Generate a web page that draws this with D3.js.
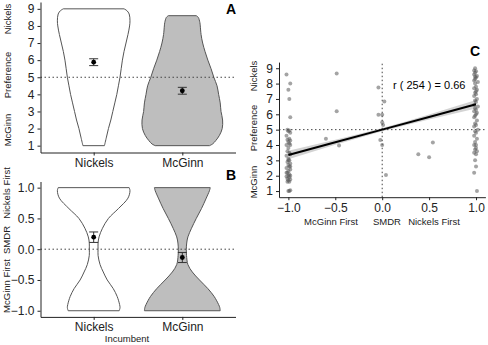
<!DOCTYPE html>
<meta charset="utf-8">
<style>
body { margin: 0; background: #fff; }
svg { font-family: "Liberation Sans", Arial, sans-serif; }
.axis text { font-size: 12px; fill: #222; }
.axis path, .axis line { stroke: #222; stroke-width: 1px; }
.ttl { font-size: 9.5px; fill: #222; }
.panel { font-size: 14px; font-weight: bold; }
.violin { stroke: #555; stroke-width: 1px; }
.ref { stroke: #444; stroke-width: 1px; stroke-dasharray: 1.5,2.5; fill: none; }
</style>
<body>
<script src="https://d3js.org/d3.v7.min.js"></script>
<script>

// incumbent groups
var groups = ["Nickels", "McGinn"];

// preference violin outlines (value, relative half width)
var prefVals = {
  Nickels: [1, 1.5, 2, 2.5, 3, 3.5, 4, 4.5, 5, 5.5, 6, 6.5, 7, 7.5, 8, 8.3, 8.7, 8.9, 9],
  McGinn:  [1, 1.1, 1.3, 1.6, 2, 2.5, 3, 3.5, 4, 4.5, 5, 5.5, 6, 6.5, 7, 7.5, 8, 8.2, 8.5, 8.6]
};
var prefDens = {
  Nickels: [0.27, 0.32, 0.37, 0.43, 0.48, 0.53, 0.58, 0.62, 0.66, 0.69, 0.72, 0.76, 0.81, 0.86, 0.9, 0.91, 0.89, 0.83, 0.76],
  McGinn:  [0.68, 0.76, 0.84, 0.93, 1.0, 1.01, 0.97, 0.95, 0.91, 0.87, 0.79, 0.72, 0.64, 0.57, 0.51, 0.47, 0.45, 0.44, 0.4, 0.35]
};
var prefMean = { Nickels: 5.88, McGinn: 4.21 };
var prefErr  = { Nickels: 0.2,  McGinn: 0.2 };

// SMDR violin outlines
var smdrVals = {
  Nickels: [-1, -0.95, -0.9, -0.77, -0.64, -0.5, -0.37, -0.25, -0.1, 0, 0.1, 0.2, 0.34, 0.5, 0.66, 0.83, 0.95, 1],
  McGinn:  [-1, -0.95, -0.9, -0.77, -0.64, -0.5, -0.37, -0.25, -0.1, 0, 0.1, 0.2, 0.34, 0.5, 0.66, 0.83, 0.95, 1]
};
var smdrDens = {
  Nickels: [0.64, 0.66, 0.65, 0.59, 0.49, 0.34, 0.24, 0.16, 0.11, 0.11, 0.11, 0.135, 0.22, 0.37, 0.62, 0.86, 0.91, 0.89],
  McGinn:  [0.95, 0.94, 0.91, 0.8, 0.64, 0.43, 0.25, 0.14, 0.105, 0.1, 0.11, 0.14, 0.23, 0.35, 0.48, 0.6, 0.68, 0.7]
};
var smdrMean = { Nickels: 0.195, McGinn: -0.135 };
var smdrErr  = { Nickels: 0.085, McGinn: 0.082 };

// scatter: SMDR vs preference
var ptX = [
  -1.02, -0.98, -1.0, -0.99, -0.98, -1.01, -0.99, -1.0, -0.98, -1.02, -0.99, -1.01, -0.98, -1.0, -0.99, -1.02,
  -0.98, -1.0, -1.01, -0.99, -0.98, -1.02, -1.0, -0.99, -1.01, -0.98, -1.0, -0.99, -1.02, -0.98, -1.0, -1.01,
  -0.99, -0.98, -1.0, -1.02, -0.99, -1.01, -0.98, -1.0, -0.99, -1.01, -0.98, -1.0, -0.99, -1.02, -0.98, -1.0,
  -0.6, -0.485, -0.485, -0.46,
  -0.04, 0.023, -0.04, 0.0, 0.0, 0.01, -0.02, 0.0, 0.04,
  0.385, 0.5, 0.54,
  0.99, 0.98, 1.0, 0.99, 0.98, 1.01, 1.0, 0.99, 0.98, 1.02, 0.99, 1.0, 0.98, 1.01, 0.99, 1.0,
  0.98, 1.01, 0.99, 1.0, 0.98, 1.02, 0.99, 1.0, 0.98, 1.01, 1.0, 0.99, 0.98, 1.01, 0.99, 1.0,
  0.98, 1.02, 0.99, 1.0, 0.98, 1.01, 0.99, 1.0, 0.98, 1.0, 0.99, 1.01, 0.98, 1.0, 0.99, 1.0,
  0.98, 1.01, 0.99, 1.0
];
var ptY = [
  8.6, 8.0, 7.6, 7.0, 5.8, 5.0, 4.95, 4.9, 4.8, 4.6, 4.4, 4.35, 4.3, 4.2, 4.1, 4.0,
  4.0, 3.8, 3.6, 3.5, 3.4, 3.3, 3.1, 3.0, 2.9, 2.8, 2.7, 2.6, 2.5, 2.4, 2.3, 2.2,
  2.1, 2.0, 2.0, 1.95, 1.9, 1.8, 1.75, 1.7, 1.6, 1.6, 1.05, 1.0, 1.0, 2.2, 2.6, 3.0,
  4.4, 8.65, 6.2, 3.97,
  7.75, 6.83, 5.97, 5.97, 5.48, 5.3, 4.33, 4.0, 2.04,
  3.4, 3.2, 4.17,
  9.0, 8.85, 8.8, 8.7, 8.6, 8.5, 8.4, 8.3, 8.2, 8.1, 8.0, 7.8, 7.7, 7.6, 7.4, 7.3,
  7.2, 7.0, 6.9, 6.8, 6.6, 6.5, 6.4, 6.3, 6.2, 6.1, 6.0, 5.9, 5.8, 5.6, 5.4, 5.3,
  5.2, 5.0, 4.9, 4.8, 4.6, 4.4, 4.2, 4.0, 4.0, 3.8, 3.7, 3.6, 3.5, 3.4, 3.0, 2.6,
  2.2, 1.0, 8.45, 7.5
];

// linear fit with confidence band
var fitX = [-1, -0.5, 0, 0.5, 1];
var fitY = [3.35, 4.175, 5.0, 5.825, 6.65];
var fitLo = [3.07, 4.01, 4.9, 5.66, 6.37];
var fitHi = [3.63, 4.34, 5.1, 5.99, 6.93];

var prefTicks = [1, 2, 3, 4, 5, 6, 7, 8, 9];
var smdrTicks = [-1, -0.5, 0, 0.5, 1];

var svg = d3.select("body").append("svg")
    .attr("width", 488)
    .attr("height", 345);

var fills = { Nickels: "#ffffff", McGinn: "#bebebe" };

// shared x scale for the two violin panels
var x = d3.scalePoint().domain(groups).range([40.5, 235.5]).padding(0.6);
var halfW = d3.scaleLinear().domain([0, 1]).range([0, x.step() * 0.45]);

function violinPanel(yScale, vals, dens, mean, err, ticks, fmt, refVal, yAxisY) {
  var g = svg.append("g");

  groups.forEach(function(k) {
    var pts = vals[k].map(function(v, i) { return [v, dens[k][i]]; });
    var area = d3.area()
        .y(function(d) { return yScale(d[0]); })
        .x0(function(d) { return x(k) - halfW(d[1]); })
        .x1(function(d) { return x(k) + halfW(d[1]); })
        .curve(d3.curveCatmullRom);
    g.append("path")
        .datum(pts)
        .attr("class", "violin")
        .attr("fill", fills[k])
        .attr("d", area);
  });

  // reference line
  g.append("line")
      .attr("class", "ref")
      .attr("x1", x.range()[0]).attr("x2", x.range()[1])
      .attr("y1", yScale(refVal)).attr("y2", yScale(refVal));

  // mean +/- se
  groups.forEach(function(k) {
    var cx = x(k);
    var lo = yScale(mean[k] - err[k]), hi = yScale(mean[k] + err[k]);
    g.append("path")
        .attr("d", "M" + (cx - 4.5) + "," + hi + "H" + (cx + 4.5) +
                   "M" + cx + "," + hi + "V" + lo +
                   "M" + (cx - 4.5) + "," + lo + "H" + (cx + 4.5))
        .attr("stroke", "#333").attr("stroke-width", 1).attr("fill", "none");
    g.append("circle")
        .attr("cx", cx).attr("cy", yScale(mean[k]))
        .attr("r", 2.4).attr("fill", "#000");
  });

  g.append("g")
      .attr("class", "axis")
      .attr("transform", "translate(" + x.range()[0] + ",0)")
      .call(d3.axisLeft(yScale).tickValues(ticks).tickFormat(fmt).tickSize(3).tickSizeOuter(0).tickPadding(3));

  g.append("g")
      .attr("class", "axis")
      .attr("transform", "translate(0," + yAxisY + ")")
      .call(d3.axisBottom(x).tickSize(3).tickSizeOuter(0).tickPadding(3));
}

// A: preference
var yA = d3.scaleLinear().domain([0.6, 9.4]).range([152.5, 2]);
violinPanel(yA, prefVals, prefDens, prefMean, prefErr, prefTicks, d3.format("d"), 5, 152.5);

// B: SMDR
var yB = d3.scaleLinear().domain([-1.1, 1.1]).range([316.9, 181.5]);
violinPanel(yB, smdrVals, smdrDens, smdrMean, smdrErr, smdrTicks, d3.format(".1f"), 0, 316.9);

// y titles, split into three parts
function sideTitle(xp, parts) {
  parts.forEach(function(p) {
    svg.append("text")
        .attr("class", "ttl")
        .attr("text-anchor", "middle")
        .attr("transform", "translate(" + xp + "," + p[1] + ") rotate(-90)")
        .text(p[0]);
  });
}
sideTitle(11, [["Nickels", 19], ["Preference", 75], ["McGinn", 130]]);
sideTitle(10, [["Nickels First", 193], ["SMDR", 240], ["McGinn First", 286]]);

svg.append("text").attr("class", "ttl").attr("text-anchor", "middle")
    .attr("x", 127).attr("y", 342).text("Incumbent");

svg.append("text").attr("class", "panel").attr("x", 226).attr("y", 14).text("A");
svg.append("text").attr("class", "panel").attr("x", 226).attr("y", 180).text("B");
svg.append("text").attr("class", "panel").attr("x", 470).attr("y", 56).text("C");

// C: scatter with fit
var xC = d3.scaleLinear().domain([-1.1, 1.1]).range([279, 485.4]);
var yC = d3.scaleLinear().domain([0.6, 9.4]).range([197.2, 62.1]);
var gC = svg.append("g");

var band = d3.area()
    .x(function(d, i) { return xC(fitX[i]); })
    .y0(function(d, i) { return yC(fitLo[i]); })
    .y1(function(d, i) { return yC(fitHi[i]); })
    .curve(d3.curveMonotoneX);
gC.append("path").datum(fitX).attr("fill", "#c8c8c8").attr("opacity", 0.8).attr("d", band);

gC.append("line").attr("class", "ref")
    .attr("x1", xC.range()[0]).attr("x2", xC.range()[1])
    .attr("y1", yC(5)).attr("y2", yC(5));
gC.append("line").attr("class", "ref")
    .attr("x1", xC(0)).attr("x2", xC(0))
    .attr("y1", yC.range()[0]).attr("y2", yC.range()[1]);

gC.selectAll("circle.pt")
    .data(ptX)
  .enter().append("circle")
    .attr("class", "pt")
    .attr("cx", function(d) { return xC(d); })
    .attr("cy", function(d, i) { return yC(ptY[i]); })
    .attr("r", 2)
    .attr("fill", "#5a5a5a")
    .attr("fill-opacity", 0.55);

var fitLine = d3.line()
    .x(function(d, i) { return xC(fitX[i]); })
    .y(function(d, i) { return yC(fitY[i]); });
gC.append("path").datum(fitX).attr("d", fitLine)
    .attr("stroke", "#000").attr("stroke-width", 2).attr("fill", "none");

gC.append("g")
    .attr("class", "axis")
    .attr("transform", "translate(" + xC.range()[0] + ",0)")
    .call(d3.axisLeft(yC).tickValues(prefTicks).tickFormat(d3.format("d")).tickSize(3).tickSizeOuter(0).tickPadding(3));
gC.append("g")
    .attr("class", "axis")
    .attr("transform", "translate(0," + yC.range()[0] + ")")
    .call(d3.axisBottom(xC).tickValues(smdrTicks).tickFormat(d3.format(".1f")).tickSize(3).tickSizeOuter(0).tickPadding(3));

gC.append("text").attr("font-size", 11).attr("x", 393).attr("y", 89).text("r ( 254 ) = 0.66");

[["McGinn First", 331], ["SMDR", 387], ["Nickels First", 434]].forEach(function(p) {
  svg.append("text").attr("class", "ttl").attr("text-anchor", "middle")
      .attr("x", p[1]).attr("y", 225).text(p[0]);
});
sideTitle(257, [["Nickels", 76], ["Preference", 128], ["McGinn", 182]]);

</script>
</body>
